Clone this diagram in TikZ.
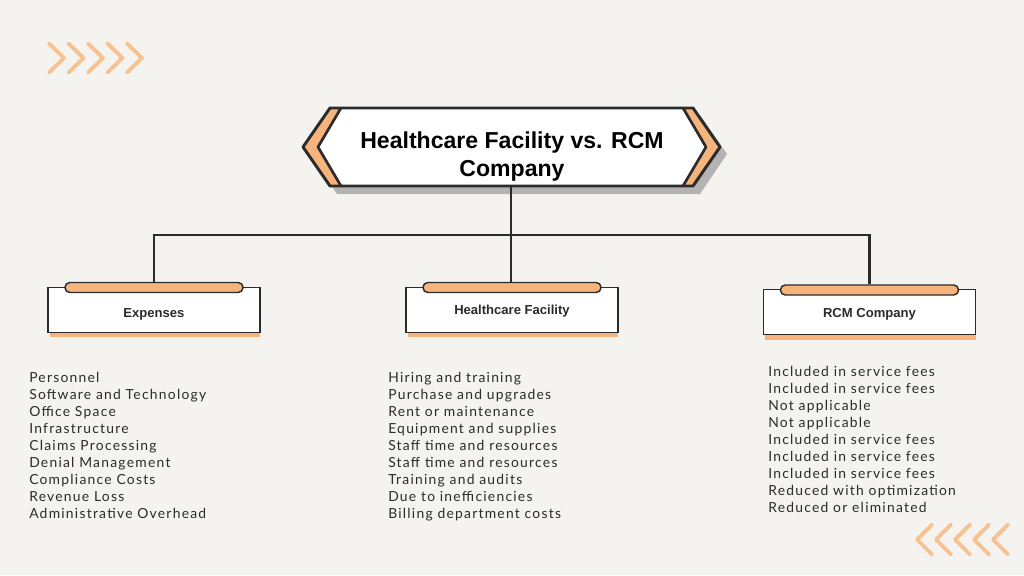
\documentclass[tikz,border=0pt]{standalone}
\usepackage{fontspec}
\setmainfont{Liberation Sans}
\newfontfamily\listfont[LetterSpace=9]{Lato}
\definecolor{bg}{HTML}{F5F3EF}
\definecolor{org}{HTML}{F5B47C}
\definecolor{chev}{HTML}{F7C291}
\definecolor{shd}{HTML}{B3B3B3}
\definecolor{ink}{HTML}{2B2B2B}
\tikzset{
  chevline/.style={draw=chev,line width=2.9pt,line cap=round,line join=round},
  conn/.style={draw=ink,line width=1.9pt},
  boxnode/.style={draw=ink,line width=1.4pt,fill=white,minimum width=159pt,minimum height=33.75pt,inner sep=0pt,font=\bfseries\fontsize{9.8}{12}\selectfont,text=ink},
  pill/.style={draw=ink,line width=1.1pt,fill=org,rounded corners=3.6pt,minimum width=133.5pt,minimum height=7.5pt,inner sep=0pt},
  listtext/.style={anchor=north west,inner sep=0pt,align=left,text=ink,font=\listfont\fontsize{10.4}{12.75}\selectfont}
}
\begin{document}
\begin{tikzpicture}[x=0.75pt,y=-0.75pt]
\useasboundingbox[fill=bg] (0,0) rectangle (1024,575);
% chevrons
\foreach \i in {0,...,4}{
  \draw[chevline] ({49+19.5*\i},43.5) -- ({64+19.5*\i},58) -- ({49+19.5*\i},72.5);
  \draw[chevline] ({932+19*\i},524.5) -- ({917+19*\i},539.5) -- ({932+19*\i},554.5);
}
% title shape
\fill[shd] (337,115) -- (700,115) -- (727,154) -- (700,194) -- (337,194) -- (310,154) -- cycle;
\fill[org] (330,108) -- (693,108) -- (720,147) -- (693,186) -- (330,186) -- (303,147) -- cycle;
\fill[white] (341,108) -- (683,108) -- (706,147) -- (683,186) -- (341,186) -- (318,147) -- cycle;
\draw[ink,line width=2pt,line join=round] (341,108) -- (318,147) -- (341,186);
\draw[ink,line width=2pt,line join=round] (683,108) -- (706,147) -- (683,186);
\draw[ink,line width=2.2pt,line join=round] (330,108) -- (693,108) -- (720,147) -- (693,186) -- (330,186) -- (303,147) -- cycle;
\node[align=center,font=\bfseries\fontsize{17.3}{21}\selectfont,text=black,inner sep=0pt] (title) at (512,157) {Healthcare Facility vs. RCM\\Company};
% shadows of boxes
\fill[org] (50,292) rectangle (260,337);
\fill[org] (408,292) rectangle (618,337);
\fill[org] (765,294) rectangle (976,340);
% boxes
\node[boxnode] (ebox) at (154,310) {};
\node[boxnode] (hbox) at (512,310) {};
\node[boxnode] (rbox) at (869.5,312) {};
\node[font=\bfseries\fontsize{9.8}{12}\selectfont,text=ink,inner sep=0pt] (elab) at (154,314) {Expenses};
\node[font=\bfseries\fontsize{9.8}{12}\selectfont,text=ink,inner sep=0pt] (hlab) at (512,311.5) {Healthcare Facility};
\node[font=\bfseries\fontsize{9.8}{12}\selectfont,text=ink,inner sep=0pt] (rlab) at (869.5,314.5) {RCM Company};
\node[pill] (epill) at (154,287.5) {};
\node[pill] (hpill) at (512,287.5) {};
\node[pill] (rpill) at (869.5,290) {};
% connectors
\coordinate (tb) at (511,187);
\coordinate (busL) at (154,235);
\coordinate (busR) at (869.5,235);
\draw[conn] (tb) -- (tb |- hpill.north);
\draw[conn] ([xshift=-0.95pt]busL) -- ([xshift=0.95pt]busR);
\draw[conn] (busL) -- (epill.north);
\draw[conn] (busR) -- (rpill.north);
% lists
\node[listtext] (elist) at (29,372) {Personnel\\Software and Technology\\Office Space\\Infrastructure\\Claims Processing\\Denial Management\\Compliance Costs\\Revenue Loss\\Administrative Overhead};
\node[listtext] (hlist) at (388,372) {Hiring and training\\Purchase and upgrades\\Rent or maintenance\\Equipment and supplies\\Staff time and resources\\Staff time and resources\\Training and audits\\Due to inefficiencies\\Billing department costs};
\node[listtext] (rlist) at (768,366) {Included in service fees\\Included in service fees\\Not applicable\\Not applicable\\Included in service fees\\Included in service fees\\Included in service fees\\Reduced with optimization\\Reduced or eliminated};
\end{tikzpicture}
\end{document}
